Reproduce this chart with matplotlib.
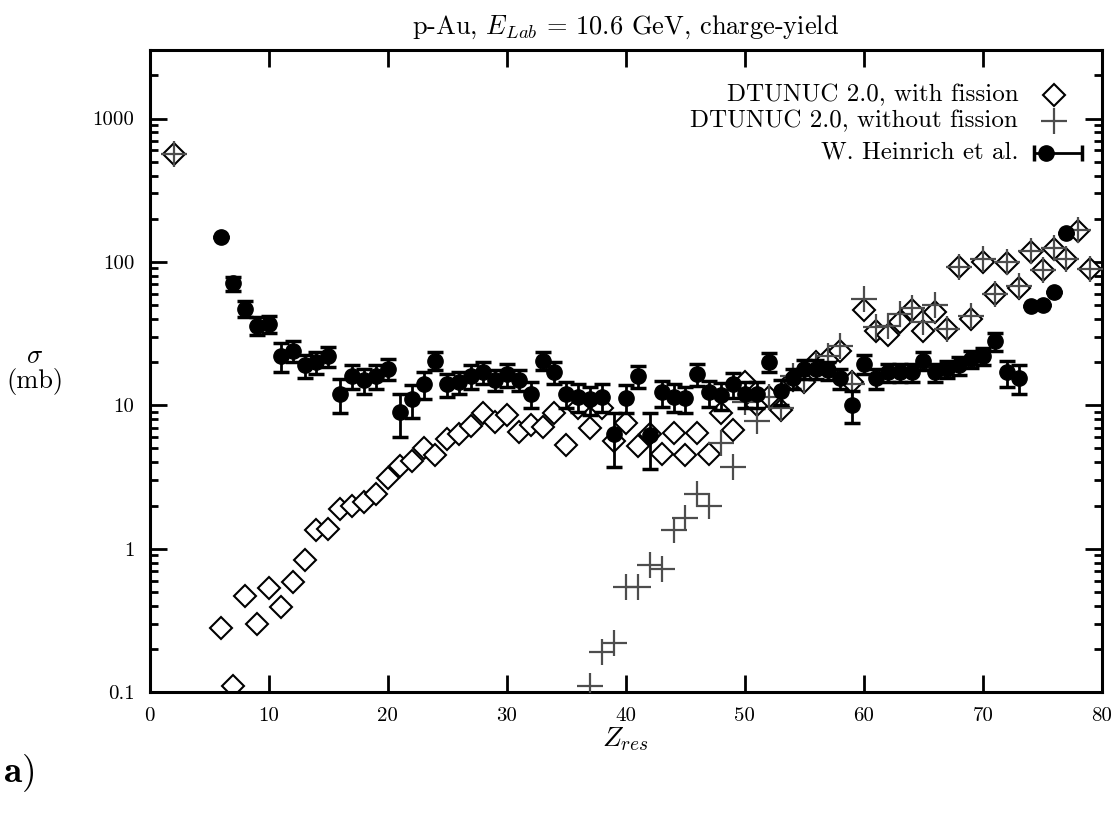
import matplotlib
matplotlib.use("Agg")
import matplotlib.pyplot as plt
import numpy as np

plt.rcParams["font.family"] = ["cmr10", "DejaVu Serif"]
plt.rcParams["mathtext.fontset"] = "cm"
plt.rcParams["axes.formatter.use_mathtext"] = True

# DTUNUC 2.0 with fission (diamonds)
zFis = [2, 6, 7, 8, 9, 10, 11, 12, 13, 14, 15, 16, 17, 18, 19, 20, 21, 22, 23, 24,
        25, 26, 27, 28, 29, 30, 31, 32, 33, 34, 35, 36, 37, 38, 39, 40, 41, 42, 43, 44,
        45, 46, 47, 48, 49, 50, 51, 52, 53, 54, 55, 56, 57, 58, 59, 60, 61, 62, 63, 64,
        65, 66, 67, 68, 69, 70, 71, 72, 73, 74, 75, 76, 77, 78, 79]
sigFis = [570, 0.28, 0.11, 0.47, 0.30, 0.53, 0.39, 0.59, 0.83, 1.35, 1.38, 1.9, 2.0, 2.1, 2.4, 3.1, 3.8, 4.1, 5.0, 4.5,
          5.8, 6.3, 7.2, 8.8, 7.6, 8.6, 6.5, 7.3, 7.1, 8.8, 5.3, 9.5, 7.0, 9.6, 5.6, 7.5, 5.2, 6.3, 4.6, 6.4,
          4.5, 6.4, 4.6, 8.9, 6.7, 14.5, 10.0, 11.5, 9.3, 15.0, 14.5, 20.0, 21.0, 24.0, 14.5, 46, 33, 31, 38, 46,
          33, 45, 34, 92, 40, 100, 60, 98, 66, 118, 88, 124, 104, 163, 89]

# DTUNUC 2.0 without fission (crosses)
zNoFis = [2, 37, 38, 39, 40, 41, 42, 43, 44, 45, 46, 47, 48, 49, 50, 51, 52, 53, 54, 55,
          56, 57, 58, 59, 60, 61, 62, 63, 64, 65, 66, 67, 68, 69, 70, 71, 72, 73, 74, 75,
          76, 77, 78, 79]
sigNoFis = [570, 0.11, 0.19, 0.22, 0.54, 0.54, 0.77, 0.72, 1.35, 1.65, 2.4, 2.0, 5.5, 3.7, 10.5, 7.8, 11.5, 9.5, 16, 15,
            19, 22, 26, 14, 55, 35, 36, 43, 48, 38, 50, 34, 92, 42, 105, 60, 100, 68, 120, 88,
            126, 104, 166, 89]

# W. Heinrich et al. (data)
zExp = [6, 7, 8, 9, 10, 11, 12, 13, 14, 15, 16, 17, 18, 19, 20, 21, 22, 23, 24, 25,
        26, 27, 28, 29, 30, 31, 32, 33, 34, 35, 36, 37, 38, 39, 40, 41, 42, 43, 44, 45,
        46, 47, 48, 49, 50, 51, 52, 53, 54, 55, 56, 57, 58, 59, 60, 61, 62, 63, 64, 65,
        66, 67, 68, 69, 70, 71, 72, 73, 74, 75, 76, 77]
sigExp = [150, 71, 47, 36, 37, 22, 24, 19, 20, 22, 12, 16, 15, 16, 18, 9.0, 11, 14, 20.5, 14,
          14.5, 16, 17, 15, 16.5, 15, 12, 20.5, 17, 12, 11.5, 11, 11.5, 6.3, 11.3, 16, 6.2, 12.3, 11.5, 11.2,
          16.5, 12.3, 11.8, 14, 12, 12, 20, 12.5, 15.5, 18, 18, 17.5, 15.5, 10, 19.5, 15.5, 17, 17, 17, 20.5,
          17, 18, 19, 21, 22, 28, 17, 15.5, 49, 50, 62, 158]
errExp = [0, 8, 6, 5, 5, 5, 4, 3.5, 3.5, 3.5, 3.2, 3, 3, 3, 3, 3, 2.8, 3, 3, 2.5,
          2.5, 3, 3, 2.5, 3, 2.5, 2.5, 3, 3, 2.5, 2.5, 2.5, 2.5, 2.6, 2.5, 2.8, 2.6, 2.5, 2.5, 2.3,
          2.8, 2.5, 2.5, 2.8, 2.5, 2.5, 3, 2.5, 2.5, 2.8, 2.8, 2.5, 2.5, 2.5, 3, 2.5, 2.5, 2.5, 2.5, 3,
          2.5, 2.5, 2.8, 2.8, 3, 4, 3.5, 3.5, 0, 0, 0, 0]

fig = plt.figure(figsize=(11.18, 8.21), dpi=100)
ax = fig.add_axes([0.134, 0.157, 0.8517, 0.782])

ax.plot(zFis, sigFis, linestyle="none", marker="D", markersize=11.5,
        markerfacecolor="white", markeredgecolor="black", markeredgewidth=1.5, zorder=2)
ax.plot(zNoFis, sigNoFis, linestyle="none", marker="+", markersize=19,
        color="#4d4d4d", markeredgewidth=1.6, zorder=3)
ax.errorbar(zExp, sigExp, yerr=errExp, fmt="o", color="black", markersize=11,
            elinewidth=2, capsize=6, capthick=2.5, zorder=4)

ax.set_yscale("log")
ax.set_xlim(0, 80)
ax.set_ylim(0.1, 3000)
ax.set_xticks(np.arange(0, 81, 10))
ax.set_xticklabels([str(v) for v in range(0, 81, 10)])
ax.set_yticks([0.1, 1, 10, 100, 1000])
ax.set_yticklabels(["0.1", "1", "10", "100", "1000"])
ax.tick_params(which="both", direction="in", top=True, right=True, width=2, labelsize=15)
ax.tick_params(which="major", length=12, pad=11)
ax.tick_params(which="minor", length=6)
for sp in ax.spines.values():
    sp.set_linewidth(2.2)

ax.set_xlabel(r"$Z_{res}$", fontsize=20, labelpad=0)
fig.text(0.031, 0.55, "$\\sigma$\n(mb)", fontsize=19, ha="center", va="center", linespacing=1.0)
ax.set_title(r"p-Au, $E_{Lab}$ = 10.6 GeV, charge-yield", fontsize=19, pad=12)
fig.text(0.003, 0.058, r"$\mathbf{a)}$", fontsize=27, ha="left", va="center")

# legend drawn by hand (symbols right of text)
legText = ["DTUNUC 2.0, with fission", "DTUNUC 2.0, without fission", "W. Heinrich et al."]
legY = [0.930, 0.889, 0.840]
for txt, yy in zip(legText, legY):
    ax.text(0.912, yy, txt, transform=ax.transAxes, ha="right", va="center", fontsize=18)
ax.plot([0.950], [legY[0]], transform=ax.transAxes, marker="D", markersize=11.5,
        markerfacecolor="white", markeredgecolor="black", markeredgewidth=1.5, clip_on=False)
ax.plot([0.950], [legY[1]], transform=ax.transAxes, marker="+", markersize=19,
        color="#4d4d4d", markeredgewidth=1.6, clip_on=False)
ax.plot([0.929, 0.979], [legY[2], legY[2]], transform=ax.transAxes, color="black", lw=2)
ax.plot([0.929, 0.979], [legY[2], legY[2]], transform=ax.transAxes, linestyle="none",
        marker="|", markersize=12, markeredgewidth=2.5, color="black")
ax.plot([0.941], [legY[2]], transform=ax.transAxes, marker="o", markersize=11, color="black")

fig.savefig("out.png", dpi=100)
